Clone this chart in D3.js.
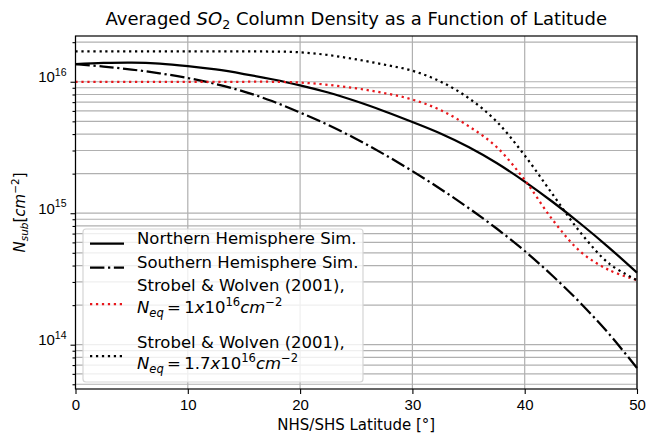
<!DOCTYPE html>
<html>
<head>
<meta charset="utf-8">
<script src="https://cdn.jsdelivr.net/npm/d3@7"></script>
<style>
  body { margin: 0; background: #fff; }
  svg { font-family: "DejaVu Sans", sans-serif; }
</style>
</head>
<body>
<div id="chart"></div>
<script>
// latitude samples (deg) and column densities
var lat = [0, 2.5, 5, 7.5, 10, 12.5, 15, 17.5, 20, 22.5, 25, 27.5, 30, 32.5, 35, 37.5, 40, 42.5, 45, 47.5, 50];
var northSim = [1.36e16, 1.39e16, 1.40e16, 1.375e16, 1.316e16, 1.24e16, 1.145e16, 1.045e16, 9.4e15, 8.28e15, 7.1e15,
                5.97e15, 4.94e15, 4.04e15, 3.19e15, 2.41e15, 1.74e15, 1.217e15, 8.28e14, 5.48e14, 3.53e14];
var southSim = [1.363e16, 1.305e16, 1.238e16, 1.159e16, 1.067e16, 9.6e15, 8.42e15, 7.13e15, 5.83e15, 4.69e15, 3.67e15,
                2.80e15, 2.09e15, 1.53e15, 1.095e15, 7.65e14, 5.16e14, 3.33e14, 2.06e14, 1.21e14, 6.65e13];
var sw1 = [1.0e16, 1.0e16, 1.0e16, 1.0e16, 1.0e16, 1.0e16, 1.0e16, 1.0e16, 9.86e15, 9.47e15, 8.91e15,
           8.2e15, 7.32e15, 6.09e15, 4.6e15, 3.19e15, 1.79e15, 8.88e14, 5.07e14, 3.7e14, 3.1e14];
var sw17 = [1.7e16, 1.7e16, 1.7e16, 1.7e16, 1.7e16, 1.7e16, 1.7e16, 1.697e16, 1.676e16, 1.596e16, 1.48e16,
            1.349e16, 1.213e16, 1.0035e16, 7.52e15, 4.98e15, 2.75e15, 1.388e15, 7.07e14, 4.15e14, 3.1e14];
var xTicks = [0, 10, 20, 30, 40, 50];
var yTicks = [1e14, 1e15, 1e16];
var yTickExp = ["14", "15", "16"];

function draw() {
    var W = 648, H = 436;
    var pl = 75.5, pr = 637, pt = 36, pb = 389;

    var svg = d3.select("#chart").append("svg")
        .attr("width", W).attr("height", H);

    var x = d3.scaleLinear().domain([0, 50]).range([pl, pr]);
    var y = d3.scaleLog().domain([Math.pow(10, 13.663), Math.pow(10, 16.348)]).range([pb, pt]);

    // minor ticks 2..9 x 10^k inside the domain
    var yMinor = [];
    for (var k = 13; k <= 16; k++) {
        for (var m = 2; m <= 9; m++) {
            var v = m * Math.pow(10, k);
            if (v >= y.domain()[0] && v <= y.domain()[1]) yMinor.push(v);
        }
    }

    // writes mathtext-like pieces as tspans
    function mtext(sel, parts, size) {
        var off = 0;
        parts.forEach(function(p) {
            var target = p.s == "sup" ? -0.42 * size : (p.s == "sub" ? 0.22 * size : 0);
            sel.append("tspan")
                .attr("dy", target - off)
                .style("font-size", (p.s ? size * 0.7 : size) + "px")
                .style("font-style", p.i ? "italic" : "normal")
                .text(p.t);
            off = target;
        });
    }

    // grid
    var grid = svg.append("g").attr("stroke", "#b0b0b0").attr("stroke-width", 1.2);
    grid.selectAll("line.gx").data(xTicks).enter().append("line")
        .attr("x1", function(d) { return x(d); }).attr("x2", function(d) { return x(d); })
        .attr("y1", pt).attr("y2", pb);
    grid.selectAll("line.gy").data(yTicks.concat(yMinor)).enter().append("line")
        .attr("x1", pl).attr("x2", pr)
        .attr("y1", function(d) { return y(d); }).attr("y2", function(d) { return y(d); });

    // curves
    var series = [
        {vals: northSim, color: "#000", dash: null},
        {vals: southSim, color: "#000", dash: "14.4,3.6,2.25,3.6"},
        {vals: sw1, color: "#e8171c", dash: "2.25,3.7"},
        {vals: sw17, color: "#000", dash: "2.25,3.7"}
    ];
    var line = d3.line().curve(d3.curveCatmullRom.alpha(0.5));
    var plot = svg.append("g");
    series.forEach(function(s) {
        plot.append("path")
            .attr("d", line(lat.map(function(d, i) { return [x(d), y(s.vals[i])]; })))
            .attr("fill", "none")
            .attr("stroke", s.color)
            .attr("stroke-width", 2.25)
            .attr("stroke-dasharray", s.dash);
    });

    // legend
    var lg = svg.append("g");
    lg.append("rect")
        .attr("x", 83).attr("y", 229).attr("width", 280).attr("height", 153)
        .attr("rx", 3).attr("fill", "#fff").attr("fill-opacity", 0.8)
        .attr("stroke", "#d5d5d5").attr("stroke-width", 1.2);
    var eq = function(n) {
        return [{t: "N", i: 1}, {t: "eq", i: 1, s: "sub"}, {t: "\u2009=\u2009" + n}, {t: "x", i: 1}, {t: "10"},
                {t: "16", s: "sup"}, {t: "cm", i: 1}, {t: "\u22122", s: "sup"}];
    };
    var rows = [
        {s: series[0], hy: 243.5, ty: [243.5], lines: [[{t: "Northern Hemisphere Sim."}]]},
        {s: series[1], hy: 267.5, ty: [267.5], lines: [[{t: "Southern Hemisphere Sim."}]]},
        {s: series[2], hy: 304, ty: [291, 313], lines: [[{t: "Strobel & Wolven (2001),"}], eq("1")]},
        {s: series[3], hy: 356, ty: [347.5, 369], lines: [[{t: "Strobel & Wolven (2001),"}], eq("1.7")]}
    ];
    rows.forEach(function(r) {
        lg.append("line")
            .attr("x1", 90).attr("x2", 124).attr("y1", r.hy).attr("y2", r.hy)
            .attr("stroke", r.s.color).attr("stroke-width", 2.25)
            .attr("stroke-dasharray", r.s.dash);
        r.lines.forEach(function(parts, li) {
            var t = lg.append("text").attr("x", 137).attr("y", r.ty[li])
                .attr("dy", "0.36em").attr("fill", "#000");
            mtext(t, parts, 16.5);
        });
    });

    // axes
    var xAxis = svg.append("g").attr("transform", "translate(0," + pb + ")")
        .call(d3.axisBottom(x).tickValues(xTicks).tickSize(5).tickPadding(5));
    xAxis.selectAll("text").style("font-size", "15px").attr("fill", "#000");

    var yAxis = svg.append("g").attr("transform", "translate(" + pl + ",0)")
        .call(d3.axisLeft(y).tickValues(yTicks).tickSize(5).tickPadding(4).tickFormat(""));
    svg.append("g").attr("transform", "translate(" + pl + ",0)")
        .call(d3.axisLeft(y).tickValues(yMinor).tickSize(3).tickFormat(""));
    yAxis.selectAll(".tick").each(function(d, i) {
        var t = d3.select(this).append("text")
            .attr("x", -9).attr("dy", "0.36em").attr("text-anchor", "end").attr("fill", "#000");
        mtext(t, [{t: "10"}, {t: yTickExp[i], s: "sup"}], 15);
    });
    svg.selectAll(".tick line").attr("stroke", "#000").attr("stroke-width", 1.1);
    svg.selectAll(".domain").remove();

    // frame
    svg.append("rect").attr("x", pl).attr("y", pt)
        .attr("width", pr - pl).attr("height", pb - pt)
        .attr("fill", "none").attr("stroke", "#000").attr("stroke-width", 1.2);

    // labels
    var title = svg.append("text").attr("x", (pl + pr) / 2).attr("y", 25)
        .attr("text-anchor", "middle").attr("fill", "#000");
    mtext(title, [{t: "Averaged "}, {t: "SO", i: 1}, {t: "2", s: "sub"},
        {t: " Column Density as a Function of Latitude"}], 18);

    svg.append("text").attr("x", (pl + pr) / 2).attr("y", 430)
        .attr("text-anchor", "middle").style("font-size", "15px").attr("fill", "#000")
        .text("NHS/SHS Latitude [\u00b0]");

    var ylab = svg.append("text")
        .attr("transform", "translate(25," + ((pt + pb) / 2) + ") rotate(-90)")
        .attr("text-anchor", "middle").attr("fill", "#000");
    mtext(ylab, [{t: "N", i: 1}, {t: "sub", i: 1, s: "sub"}, {t: "["}, {t: "cm", i: 1},
        {t: "\u22122", s: "sup"}, {t: "]"}], 15);
}

draw();
</script>
</body>
</html>
